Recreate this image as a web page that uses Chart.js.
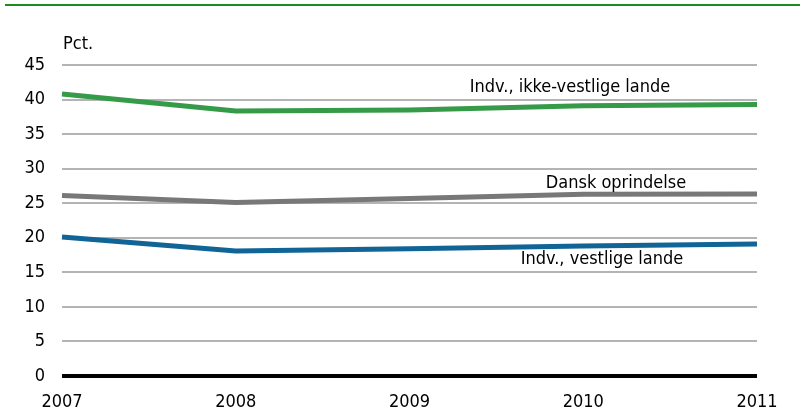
<!DOCTYPE html>
<html>
<head>
<meta charset="utf-8">
<script src="https://cdn.jsdelivr.net/npm/chart.js@4"></script>
<style>
  html, body { margin: 0; padding: 0; background: #fff; }
  #wrap { position: relative; width: 805px; height: 418px; }
  #topline { position: absolute; left: 5px; right: 5px; top: 4px; border-top: 2px solid #1f8a1f; }
</style>
</head>
<body>
<div id="wrap">
  <div id="topline"></div>
  <canvas id="myChart" width="805" height="418"></canvas>
</div>
<script>
const years = ['2007', '2008', '2009', '2010', '2011'];
const ikkeVestlige = [40.8, 38.35, 38.5, 39.1, 39.3];
const danskOprindelse = [26.1, 25.1, 25.7, 26.3, 26.35];
const vestlige = [20.1, 18.1, 18.4, 18.8, 19.1];
const yTicks = [0, 5, 10, 15, 20, 25, 30, 35, 40, 45];

const FONT = "'Liberation Sans Narrow', 'DejaVu Sans Condensed', sans-serif";

// text labels next to the lines + unit label
const lineLabels = {
    id: 'lineLabels',
    afterDatasetsDraw(chart) {
        const c = chart.ctx;
        const y = chart.scales.y;
        c.save();
        c.fillStyle = '#000';
        c.font = '18px ' + FONT;
        c.textBaseline = 'middle';
        c.textAlign = 'left';
        c.fillText('Pct.', 63, 44);
        c.textAlign = 'center';
        c.fillText('Indv., ikke-vestlige lande', 570, y.getPixelForValue(41.8));
        c.fillText('Dansk oprindelse', 616, y.getPixelForValue(27.9));
        c.fillText('Indv., vestlige lande', 602, y.getPixelForValue(16.9));
        c.restore();
    }
};

function createChart() {
    const ctx = document.getElementById('myChart');

    const data = {
        labels: years,
        datasets: [
            {
                label: 'Indv., ikke-vestlige lande',
                data: ikkeVestlige,
                borderColor: 'rgb(54, 155, 72)',
                borderWidth: 5,
            },
            {
                label: 'Dansk oprindelse',
                data: danskOprindelse,
                borderColor: 'rgb(120, 120, 120)',
                borderWidth: 5,
            },
            {
                label: 'Indv., vestlige lande',
                data: vestlige,
                borderColor: 'rgb(16, 100, 150)',
                borderWidth: 5,
            },
        ]
    };

    const config = {
        type: 'line',
        data: data,
        options: {
            responsive: false,
            animation: false,
            layout: { padding: { top: 65, right: 48, left: 0, bottom: 0 } },
            elements: { point: { radius: 0 }, line: { tension: 0, borderCapStyle: 'butt' } },
            plugins: {
                legend: { display: false },
                tooltip: { enabled: false }
            },
            scales: {
                x: {
                    offset: false,
                    grid: { display: false },
                    border: { display: false },
                    afterFit(scale) { scale.height = 42; },
                    ticks: {
                        color: '#000',
                        maxRotation: 0,
                        padding: 8,
                        font: { family: FONT, size: 18 }
                    }
                },
                y: {
                    min: 0,
                    max: 45,
                    afterBuildTicks(scale) { scale.ticks = yTicks.map(v => ({ value: v })); },
                    afterFit(scale) { scale.width = 62; },
                    border: { display: false },
                    grid: {
                        drawTicks: false,
                        color: (c) => c.tick && c.tick.value === 0 ? '#000' : '#b4b4b4',
                        lineWidth: (c) => c.tick && c.tick.value === 0 ? 4 : 2
                    },
                    ticks: {
                        color: '#000',
                        padding: 17,
                        font: { family: FONT, size: 18 }
                    }
                }
            }
        },
        plugins: [lineLabels]
    };

    new Chart(ctx, config);
}

createChart();
</script>
</body>
</html>
